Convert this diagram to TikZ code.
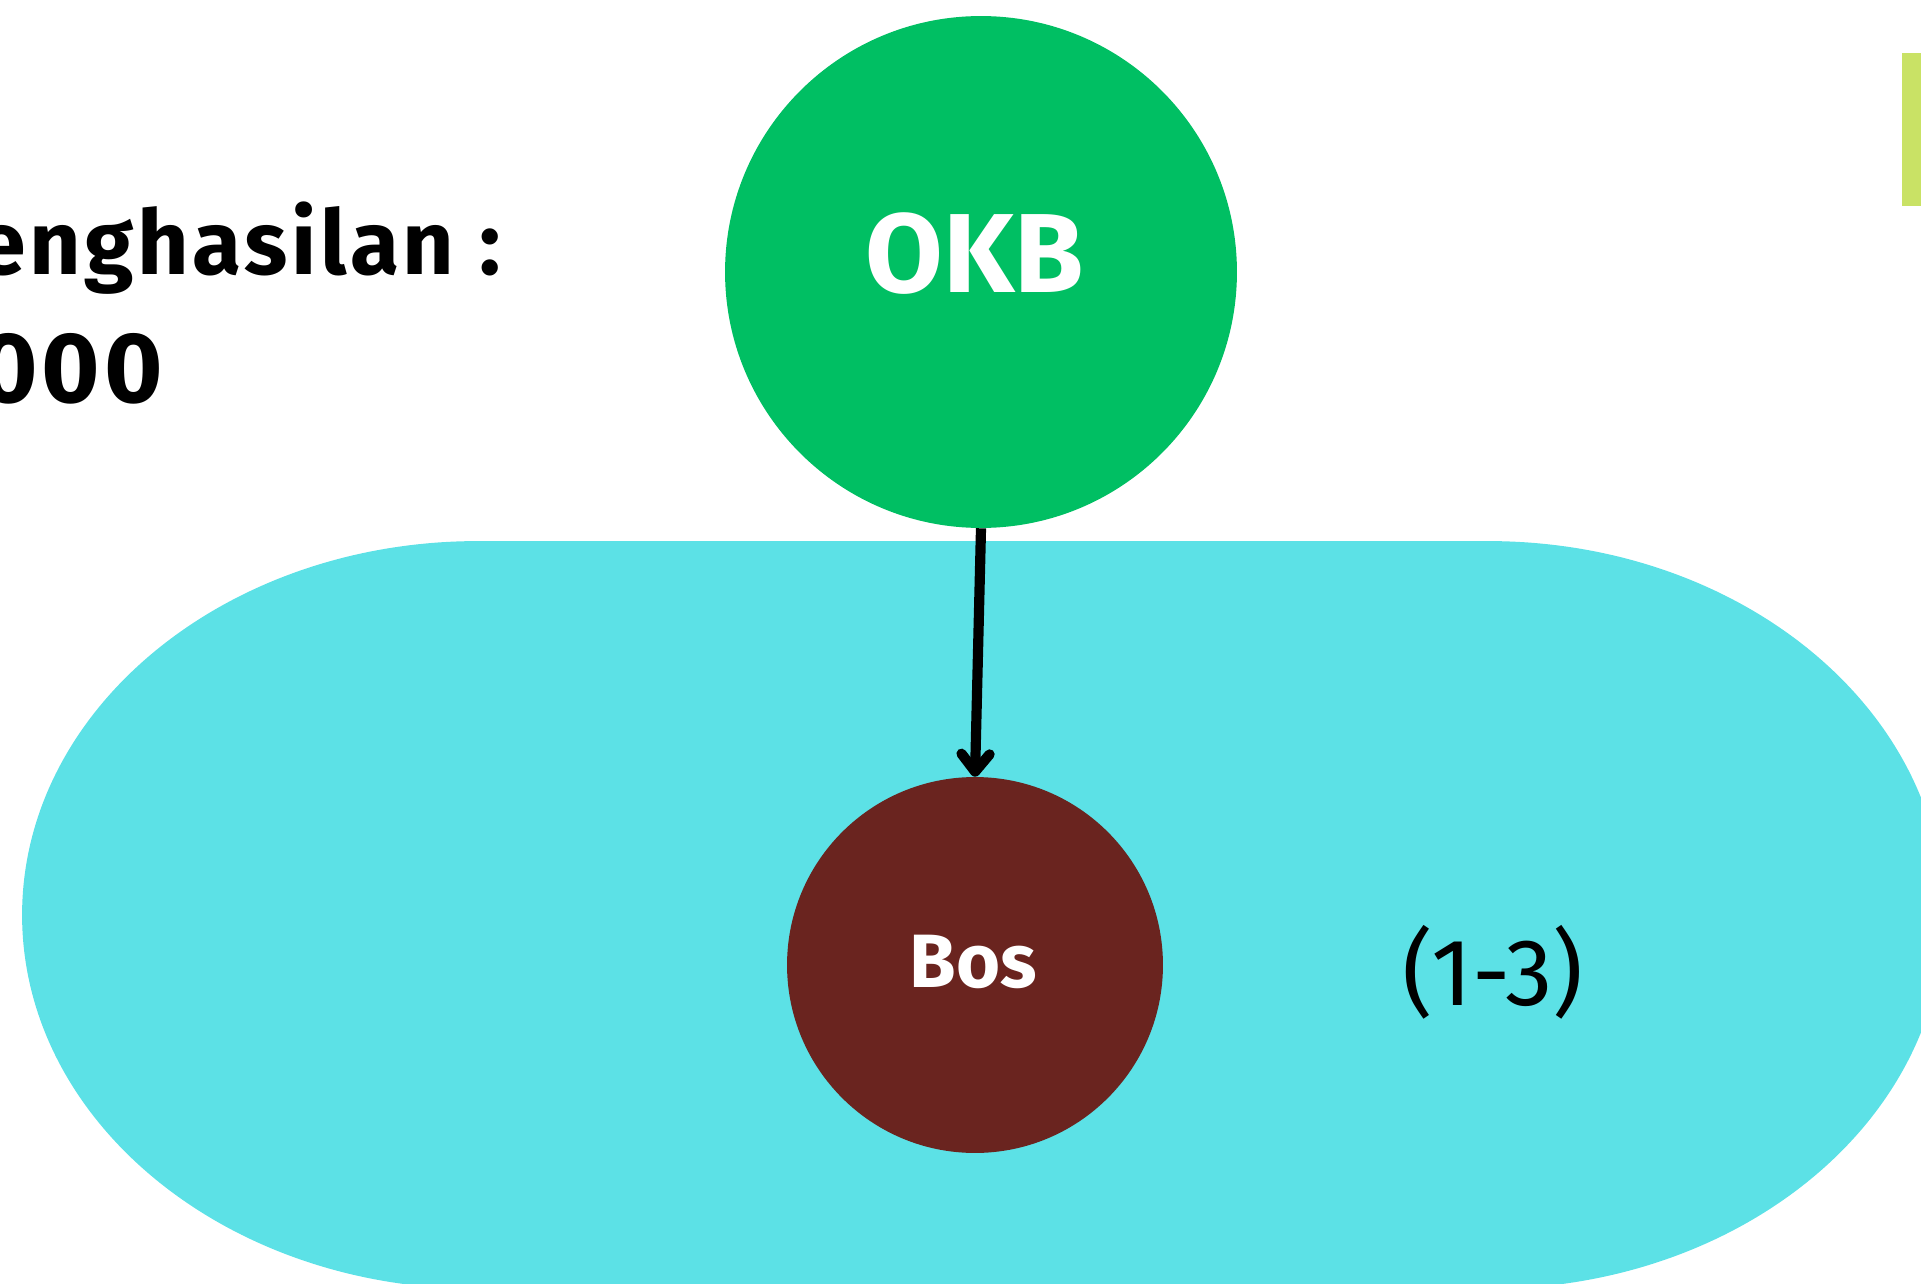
\documentclass[tikz,border=0pt]{standalone}
\usepackage{fontspec}
\setmainfont{Fira Sans}
\newfontfamily\widefira[LetterSpace=4]{Fira Sans}
\usetikzlibrary{arrows.meta}
\definecolor{okbgreen}{HTML}{00BF63}
\definecolor{bosbrown}{HTML}{6A241F}
\definecolor{groupcyan}{HTML}{5CE1E6}
\definecolor{barlime}{HTML}{C9E265}
\tikzset{
  member/.style={circle, inner sep=0pt},
  membertext/.style={text=white, font=\bfseries\fontsize{#1}{#1}\selectfont},
  infotext/.style={anchor=base east, font=\widefira\bfseries\fontsize{#1}{#1}\selectfont},
  link/.style={line width=5.8pt, -{Straight Barb[length=10pt, width=16pt, round]}},
}
\begin{document}
\begin{tikzpicture}[x=0.02cm, y=-0.02cm]
    \useasboundingbox (0,0) rectangle (1921,1284);
    \clip (0,0) rectangle (1921,1284);
	\fill[groupcyan] (478,541) rectangle (1488,1290);
	\fill[groupcyan] (478,915) ellipse [x radius=9.12cm, y radius=7.48cm];
	\fill[groupcyan] (1488,915) ellipse [x radius=9.12cm, y radius=7.48cm];
	\fill[barlime] (1902,53) rectangle (1921,206);
	\node[member, fill=okbgreen, minimum size=10.24cm] (okb) at (981,272) {};
	\node[member, fill=bosbrown, minimum size=7.52cm] (bos) at (975,965) {};
	\node[membertext=64] (okbtext) at (975,254) {OKB};
	\node[membertext=43] (bostext) at (973,962) {Bos};
	\node[font=\fontsize{54}{54}\selectfont] (range) at (1493,972) {(1-3)};
	\node[infotext=51] (income) at (507,275) {enghasilan :};
	\node[infotext=57] (amount) at (169,402) {000};
	\draw[link] (okb.south) -- (bos.north);
\end{tikzpicture}
\end{document}
